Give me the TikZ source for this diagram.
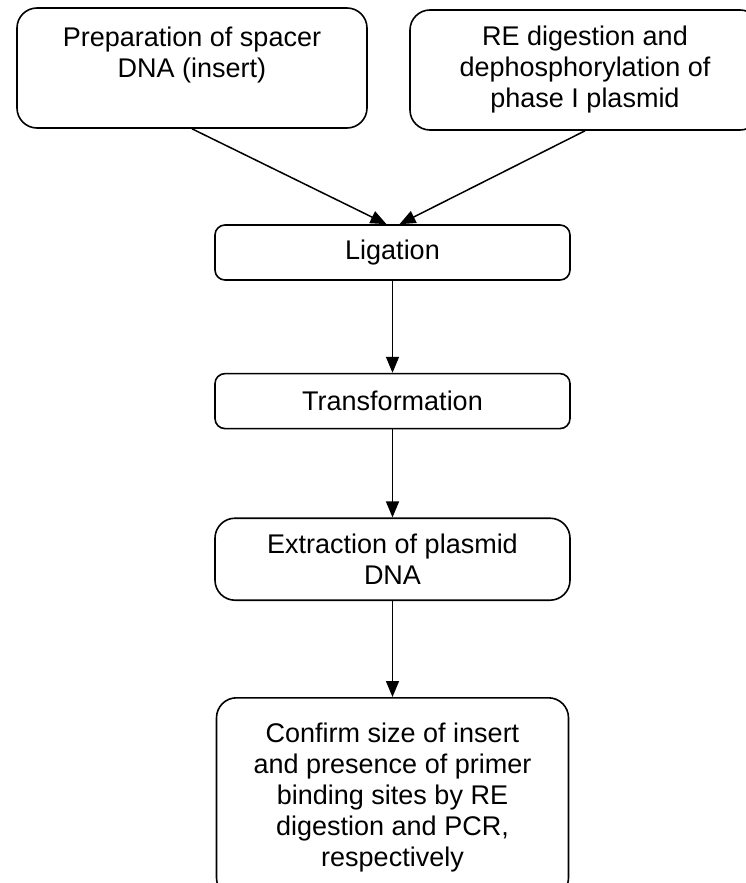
\documentclass[tikz,border=0pt]{standalone}
\usepackage{fontspec}
\setmainfont{Liberation Sans}
\usetikzlibrary{positioning}
\usetikzlibrary{arrows.meta}
\tikzset{%
  myedge/.style={->, line width=1.5pt, >={Triangle[length=16pt,width=13pt]}},
  bigbox/.style={draw=black, line width=1.6pt, rounded corners=20pt, align=center,
    minimum width=350pt, minimum height=120pt, font=\fontsize{27}{31}\selectfont},
  smallbox/.style={draw=black, line width=1.6pt, rounded corners=10pt, align=center,
    minimum width=355pt, minimum height=55pt, font=\fontsize{27}{31}\selectfont}
}
\begin{document}
\begin{tikzpicture}
  \useasboundingbox (0,0) rectangle (746pt,-883pt);
  \node[bigbox] (prep) at (192pt,-68pt) {Preparation of spacer\\DNA (insert)\\ };
  \node[bigbox] (redig) at (585pt,-70pt) {RE digestion and\\dephosphorylation of\\phase I plasmid};
  \node[smallbox] (lig) at (392.5pt,-252.5pt) {Ligation};
  \node[smallbox, below=92pt of lig] (trans) {Transformation};
  \node[smallbox, rounded corners=20pt, minimum height=82pt, below=88pt of trans] (extr) {Extraction of plasmid\\DNA};
  \node[bigbox, minimum width=352pt, minimum height=200pt, below=96pt of extr] (conf) {Confirm size of insert\\and presence of primer\\binding sites by RE\\digestion and PCR,\\respectively};
  \draw [myedge] (prep.south) -- ([xshift=-6pt]lig.north);
  \draw [myedge] (redig.south) -- ([xshift=7pt]lig.north);
  \draw [myedge] (lig) -- (trans);
  \draw [myedge] (trans) -- (extr);
  \draw [myedge] (extr) -- (conf);
\end{tikzpicture}
\end{document}
